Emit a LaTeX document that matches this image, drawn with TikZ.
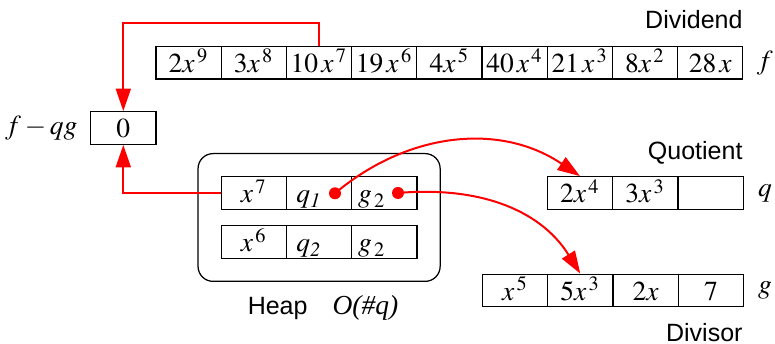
\documentclass[tikz,border=0pt]{standalone}
\usepackage{mathptmx}
\usepackage[no-math]{fontspec}
\setmainfont{Liberation Serif}
\setsansfont{Liberation Sans}
\usetikzlibrary{arrows.meta,fit}
\tikzset{
  cell/.style={draw,line width=0.5pt,inner sep=0pt,minimum width=26.1pt,
    minimum height=13pt,text height=8.5pt,text depth=0.5pt,
    font=\fontsize{11}{13}\selectfont},
  leftcell/.style={cell,inner xsep=2.5pt,text width=21.1pt,align=left},
  redline/.style={red,line width=0.8pt,-{Triangle[length=9pt,width=6pt]}},
  tag/.style={font=\sffamily,anchor=east,inner sep=0pt},
  polyname/.style={font=\fontsize{11}{13}\selectfont},
}
\begin{document}
\begin{tikzpicture}[x=0.4pt,y=0.4pt]
   \useasboundingbox (0,0) rectangle (775,344);
   % dividend
   \foreach \t [count=\i] in {2x^{\,9},3x^{\,8},10\,x^{\,7},19\,x^{\,6},4x^{\,5},40\,x^{\,4},21\,x^{\,3},8x^{\,2},28\,x}
     \node[cell] (f\i) at ({123.4+65.2*\i},281.2) {$\t$};
   \node[tag] (dividend) at (743,324) {Dividend};
   \node[polyname] (lf) at (765,281.2) {$f$};
   % remainder
   \node[cell] (zero) at (123.3,216) {$0$};
   \node[polyname,anchor=east,inner sep=0pt] (lr) at (78,216) {$f-qg$};
   % heap
   \foreach \r/\y/\e in {1/151/7, 2/102/6}
   {
     \node[cell] (h\r a) at (253.8,\y) {$x^{\,\e}$};
     \node[leftcell] (h\r b) at (319.1,\y) {\hspace{1.5pt}$q_{\mathit{\r}}$};
     \node[leftcell] (h\r c) at (384.4,\y) {$g_{\,2}$};
   }
   \node[draw,line width=0.5pt,rounded corners=6pt,inner sep=9pt,fit=(h1a)(h2c)] (heap) {};
   \node (heaplabel) at (323,36) {\sffamily Heap\quad\rmfamily\itshape\fontsize{11}{13}\selectfont O(\#q)};
   % quotient
   \foreach \t [count=\i] in {2x^{\,4},3x^{\,3},\,}
     \node[cell] (q\i) at ({514.7+65.3*\i},151) {$\t$};
   \node[tag] (quotient) at (743,191) {Quotient};
   \node[polyname] (lq) at (765,151) {$q$};
   % divisor
   \foreach \t [count=\i] in {x^{\,5},5x^{\,3},2x,7}
     \node[cell] (g\i) at ({449.7+65.3*\i},53.5) {$\t$};
   \node[tag] (divisor) at (743,11) {Divisor};
   \node[polyname] (lg) at (765,53.5) {$g$};
   % pointers
   \coordinate (d1) at (335,150.7);
   \coordinate (d2) at (398,151);
   \draw[redline] (f3.north) -- ++(0,22.5) -| (zero.north);
   \draw[redline] (h1a.west) -| (zero.south);
   \draw[redline] (d1) to[out=40,in=146] (q1.north);
   \draw[redline] (d2) to[out=5,in=122] (g2.north);
   \fill[red] (d1) circle[radius=6] (d2) circle[radius=6];
\end{tikzpicture}
\end{document}
